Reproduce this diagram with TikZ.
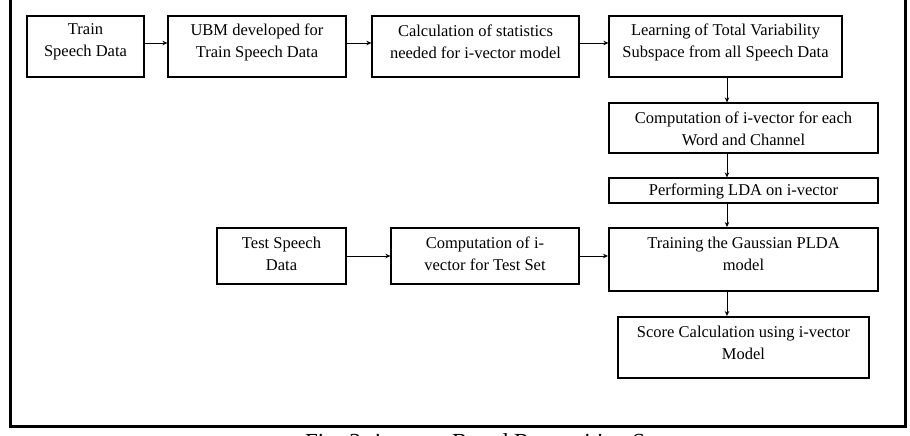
\documentclass[tikz,border=0pt]{standalone}
\usepackage{fontspec}
\setmainfont{Liberation Serif}
\usetikzlibrary{arrows.meta,calc}
\begin{document}
\begin{tikzpicture}[x=1pt,y=-1pt,
  box/.style={draw=black,line width=1.2pt,fill=white,inner sep=0pt},
  thickbox/.style={box,line width=2pt},
  lbl/.style={font=\fontsize{16.5}{22}\selectfont,align=center,inner sep=0pt},
  arr/.style={draw=black,line width=0.9pt,-{Stealth[length=5pt,width=4.5pt]}}]
\useasboundingbox (0,0) rectangle (910,436);
\clip (0,0) rectangle (910,436);
\fill[white] (0,0) rectangle (910,436);
% outer frame
\draw[line width=3pt] (10,-10) rectangle (905,426);
% boxes
\node[box,minimum width=117pt,minimum height=61pt] (b1) at (85.5,46.5) {};
\node[box,minimum width=178pt,minimum height=61pt] (b2) at (257,46.5) {};
\node[box,minimum width=207pt,minimum height=61pt] (b3) at (475.5,46.5) {};
\node[box,minimum width=233pt,minimum height=61pt] (b4) at (725.5,46.5) {};
\node[box,minimum width=269pt,minimum height=50pt] (b5) at (743.5,128) {};
\node[box,minimum width=269pt,minimum height=25pt] (b6) at (743.5,190.5) {};
\node[thickbox,minimum width=269pt,minimum height=63pt] (b7) at (743.5,259.5) {};
\node[thickbox,minimum width=251pt,minimum height=61pt] (b8) at (743.5,347.5) {};
\node[thickbox,minimum width=129pt,minimum height=56pt] (b9) at (281.5,256) {};
\node[box,minimum width=188pt,minimum height=56pt] (b10) at (485,256) {};
% labels
\node[lbl] (t1) at (85.5,42) {Train\\Speech Data};
\node[lbl] (t2) at (257,42) {UBM developed for\\Train Speech Data};
\node[lbl] (t3) at (475.5,42) {Calculation of statistics\\needed for i-vector model};
\node[lbl] (t4) at (725.5,42) {Learning of Total Variability\\Subspace from all Speech Data};
\node[lbl] (t5) at (743.5,129) {Computation of i-vector for each\\Word and Channel};
\node[lbl] (t6) at (743.5,191) {Performing LDA on i-vector};
\node[lbl] (t7) at (743.5,254) {Training the Gaussian PLDA\\model};
\node[lbl] (t8) at (743.5,342.5) {Score Calculation using i-vector\\Model};
\node[lbl] (t9) at (281.5,254) {Test Speech\\Data};
\node[lbl] (t10) at (485,254) {Computation of i-\\vector for Test Set};
% connectors
\draw[arr] ([yshift=3.5pt]b1.east) -- ([yshift=3.5pt]b2.west);
\draw[arr] ([yshift=3.5pt]b2.east) -- ([yshift=3.5pt]b3.west);
\draw[arr] ([yshift=3.5pt]b3.east) -- ([yshift=3.5pt]b4.west);
\coordinate (vx) at ([xshift=1.5pt]b4.south);
\draw[arr] (vx) -- (vx |- b5.north);
\draw[arr] (vx |- b5.south) -- (vx |- b6.north);
\draw[arr] (vx |- b6.south) -- (vx |- b7.north);
\draw[arr] (vx |- b7.south) -- (vx |- b8.north);
\draw[arr] (b9.east) -- (b10.west);
\draw[arr] (b10.east) -- (b10.east -| b7.west);
% caption (cut off by the picture edge, as in the reference)
\node[anchor=base west,inner sep=0pt,font=\fontsize{23}{26}\selectfont] (cap) at (305,449) {Fig. 3: i-vector Based Recognition System};
\end{tikzpicture}
\end{document}
